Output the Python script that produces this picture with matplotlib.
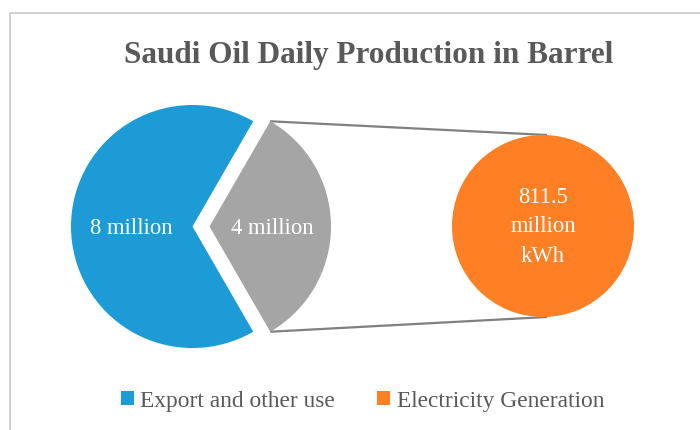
import matplotlib
matplotlib.use("Agg")
import matplotlib.pyplot as plt
from matplotlib.patches import Patch
import numpy as np

# ---- data ----
title = "Saudi Oil Daily Production in Barrel"
pie_labels = ["Electricity Generation", "Export and other use"]
pie_values = [4, 8]                  # million barrels per day
pie_texts = ["4 million", "8 million"]
kwh_value = 811.5                    # million kWh
kwh_text = "811.5\nmillion\nkWh"
legend_labels = ["Export and other use", "Electricity Generation"]

# ---- style ----
c_blue = "#1C9BD7"
c_gray = "#A5A5A5"
c_orange = "#FF7F24"
c_text = "#595959"
serif = ["Liberation Serif"]

W, H = 700, 430
fig = plt.figure(figsize=(W / 100, H / 100), dpi=100)
ax = fig.add_axes([0, 0, 1, 1])

# layout (pixel coordinates, y down)
pc = (192.5, 226.5)
pr = 121.5
expl = 17
oc = (543, 226)
orad = 91

wedges, _ = ax.pie(pie_values, colors=[c_gray, c_blue], startangle=-60,
                   counterclock=True, center=pc, radius=pr,
                   explode=[expl, 0], frame=True)
owedges, _ = ax.pie([kwh_value], colors=[c_orange], center=oc, radius=orad,
                    frame=True)

ax.set_xlim(0, W)
ax.set_ylim(H, 0)
ax.set_aspect("equal")
ax.axis("off")

# connector lines from the exploded wedge corners to the circle
half = np.deg2rad(360 * pie_values[0] / sum(pie_values) / 2)
gx = pc[0] + expl + pr * np.cos(half)
for s in (-1, 1):
    gy = pc[1] + s * pr * np.sin(half)
    ax.plot([gx, oc[0] + 4], [gy, oc[1] + s * orad], color="#808080", lw=1.6,
            solid_capstyle="butt", zorder=0)

# labels
fs = 16.3
ax.text(pc[0] + expl + 0.52 * pr, pc[1] + 2.5, pie_texts[0], color="white",
        ha="center", va="center", fontsize=fs, family=serif)
ax.text(pc[0] - 0.5 * pr, pc[1] + 2.5, pie_texts[1], color="white",
        ha="center", va="center", fontsize=fs, family=serif)
ax.text(oc[0], oc[1] + 1, kwh_text, color="white", ha="center", va="center",
        fontsize=fs, family=serif, linespacing=1.55)

ax.text(369, 55, title, color=c_text, ha="center", va="center",
        fontsize=22.5, fontweight="bold", family=serif)

# border
ax.plot([10, 10, W], [H, 12.5, 12.5], color="#C8C8C8", lw=1.2, clip_on=False)

handles = [Patch(facecolor=c_blue), Patch(facecolor=c_orange)]
leg = ax.legend(handles, legend_labels, loc="center", bbox_to_anchor=(362.5 / W, 1 - 401 / H),
                ncol=2, frameon=False, handlelength=0.57, handleheight=0.57,
                handletextpad=0.28, columnspacing=1.8,
                prop={"family": serif, "size": 16.8})
for t in leg.get_texts():
    t.set_color(c_text)

fig.savefig("out.png", dpi=100)
